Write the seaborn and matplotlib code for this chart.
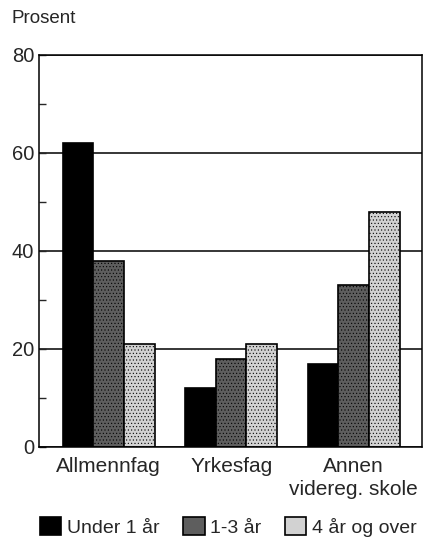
import pandas as pd
import numpy as np
import matplotlib.pyplot as plt
import seaborn as sns
from matplotlib.ticker import MultipleLocator

# Data
kategorier = ['Allmennfag', 'Yrkesfag', 'Annen\nvidereg. skole']
grupper = ['Under 1 år', '1-3 år', '4 år og over']
under_1 = [62, 12, 17]
ett_tre = [38, 18, 33]
fire_pluss = [21, 21, 48]

df = pd.DataFrame({
    'kategori': kategorier * 3,
    'gruppe': [grupper[0]] * 3 + [grupper[1]] * 3 + [grupper[2]] * 3,
    'prosent': under_1 + ett_tre + fire_pluss,
})

sns.set_style('white')
plt.rcParams['font.family'] = ['Liberation Sans', 'DejaVu Sans']
plt.rcParams['hatch.color'] = '#9a9a9a'
plt.rcParams['hatch.linewidth'] = 0.4

farger = ['#000000', '#5e5e5e', '#d2d2d2']

fig = plt.figure(figsize=(4.23, 5.43), dpi=100)
ax = fig.add_axes([0.092, 0.177, 0.906, 0.722])

sns.barplot(data=df, x='kategori', y='prosent', hue='gruppe', palette=farger,
            edgecolor='black', linewidth=1.2, width=0.75, gap=0, ax=ax,
            errorbar=None, legend=True)

# fine screen texture on the grey bars
for bars, h in zip(ax.containers, [None, '.....', '.....']):
    for b in bars:
        if h:
            b.set_hatch(h)

ax.set_ylim(0, 80)
ax.set_xlim(-0.57, 2.56)
ax.yaxis.set_major_locator(MultipleLocator(20))
ax.yaxis.set_minor_locator(MultipleLocator(10))
ax.tick_params(axis='y', which='both', direction='in', left=True, labelsize=14.5, length=5, width=1)
ax.tick_params(axis='x', bottom=False, labelsize=15, pad=4)
for t in ax.get_xticklabels():
    t.set_linespacing(1.25)
ax.set_axisbelow(True)
ax.grid(axis='y', color='black', linewidth=1.1)
for s in ax.spines.values():
    s.set_color('black')
    s.set_linewidth(1.1)
ax.set_xlabel('')
ax.set_ylabel('')

fig.text(0.028, 0.966, 'Prosent', fontsize=13.5, va='center', ha='left')

handles, labels = ax.get_legend_handles_labels()
ax.get_legend().remove()
fig.legend(handles, labels, loc='center', bbox_to_anchor=(0.54, 0.03), ncol=3,
           frameon=False, fontsize=14, handlelength=1.1, handleheight=1.1,
           handletextpad=0.3, columnspacing=1.2, borderaxespad=0)

fig.savefig('out.png', dpi=100)
